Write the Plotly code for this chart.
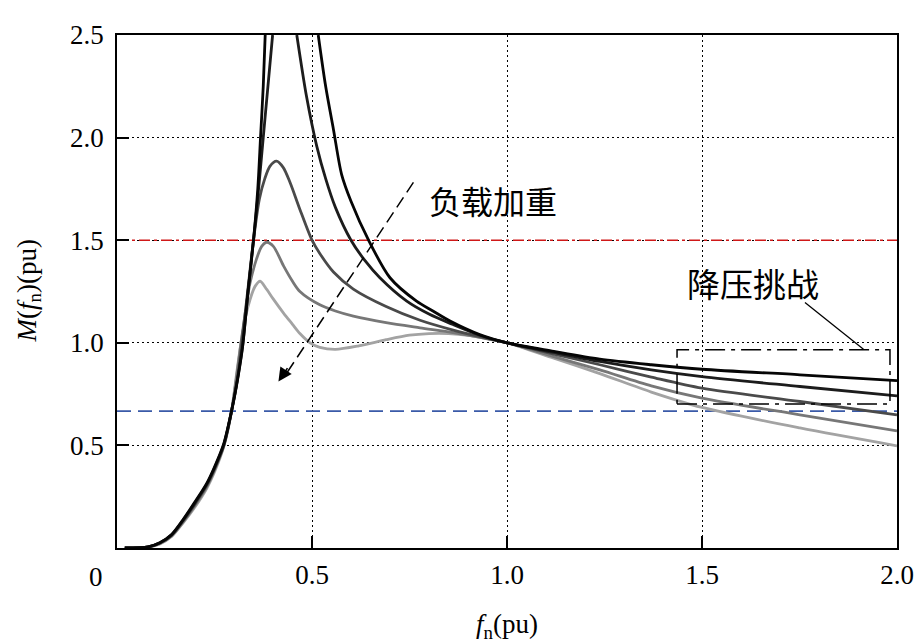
import plotly.graph_objects as go

# ---- data ----
# curve A (lightest load, darkest line) - splits where it leaves the top of the axes
fA = [0.02, 0.08, 0.11, 0.14, 0.17, 0.20, 0.23, 0.25, 0.274, 0.294, 0.31, 0.322, 0.336, 0.35, 0.361, 0.368, 0.375, 0.38,
      None,
      0.516, 0.535, 0.555, 0.576, 0.60, 0.645, 0.70, 0.768, 0.81, 0.854, 0.93, 1.0, 1.12, 1.238, 1.37, 1.5, 1.751, 2.0]
mA = [0.0, 0.006, 0.026, 0.066, 0.14, 0.225, 0.315, 0.395, 0.51, 0.67, 0.83, 0.98, 1.25, 1.5, 1.75, 2.0, 2.25, 2.5,
      None,
      2.5, 2.25, 2.04, 1.82, 1.69, 1.5, 1.317, 1.203, 1.155, 1.106, 1.04, 1.0, 0.958, 0.92, 0.893, 0.871, 0.844, 0.816]

fB = [0.02, 0.08, 0.11, 0.14, 0.17, 0.20, 0.23, 0.25, 0.274, 0.294, 0.31, 0.322, 0.336, 0.35, 0.363, 0.375, 0.387, 0.399,
      None,
      0.461, 0.486, 0.512, 0.535, 0.56, 0.60, 0.636, 0.674, 0.743, 0.80, 0.86, 0.93, 1.0, 1.12, 1.238, 1.37, 1.5, 1.751, 2.0]
mB = [0.0, 0.005, 0.025, 0.064, 0.137, 0.22, 0.31, 0.39, 0.505, 0.67, 0.835, 0.985, 1.25, 1.5, 1.75, 2.0, 2.25, 2.5,
      None,
      2.5, 2.2, 1.96, 1.8, 1.66, 1.5, 1.4, 1.317, 1.203, 1.14, 1.09, 1.037, 1.0, 0.953, 0.909, 0.868, 0.835, 0.787, 0.741]

fC = [0.02, 0.08, 0.11, 0.14, 0.17, 0.20, 0.23, 0.25, 0.274, 0.294, 0.31, 0.32, 0.335, 0.35, 0.365, 0.379, 0.392, 0.409,
      0.426, 0.444, 0.469, 0.50, 0.52, 0.555, 0.606, 0.69, 0.777, 0.862, 0.93, 1.0, 1.12, 1.238, 1.37, 1.5, 1.751, 2.0]
mC = [0.0, 0.005, 0.024, 0.062, 0.133, 0.215, 0.305, 0.385, 0.5, 0.67, 0.84, 1.0, 1.25, 1.5, 1.7, 1.8, 1.86, 1.885,
      1.855, 1.78, 1.65, 1.5, 1.435, 1.345, 1.262, 1.177, 1.11, 1.062, 1.03, 1.0, 0.945, 0.893, 0.833, 0.779, 0.714, 0.649]

fD = [0.02, 0.08, 0.11, 0.14, 0.17, 0.20, 0.23, 0.25, 0.274, 0.294, 0.307, 0.318, 0.33, 0.341, 0.358, 0.371, 0.384,
      0.401, 0.427, 0.45, 0.469, 0.52, 0.56, 0.606, 0.69, 0.777, 0.862, 0.93, 1.0, 1.12, 1.238, 1.37, 1.5, 1.751, 2.0]
mD = [0.0, 0.004, 0.022, 0.059, 0.128, 0.208, 0.298, 0.38, 0.5, 0.67, 0.84, 1.0, 1.16, 1.29, 1.41, 1.47, 1.49,
      1.47, 1.375, 1.3, 1.25, 1.185, 1.155, 1.13, 1.098, 1.073, 1.05, 1.027, 1.0, 0.933, 0.868, 0.79, 0.73, 0.649, 0.571]

fE = [0.02, 0.08, 0.11, 0.14, 0.17, 0.20, 0.23, 0.25, 0.274, 0.294, 0.306, 0.318, 0.33, 0.341, 0.354, 0.367, 0.384,
      0.40, 0.427, 0.45, 0.469, 0.495, 0.52, 0.56, 0.62, 0.69, 0.75, 0.80, 0.85, 0.905, 0.95, 1.0, 1.12, 1.238, 1.37,
      1.5, 1.751, 2.0]
mE = [0.0, 0.004, 0.02, 0.056, 0.124, 0.2, 0.29, 0.37, 0.495, 0.67, 0.84, 1.0, 1.13, 1.21, 1.275, 1.30, 1.26,
      1.215, 1.145, 1.09, 1.045, 1.0, 0.978, 0.968, 0.985, 1.015, 1.037, 1.045, 1.045, 1.035, 1.02, 1.0, 0.925, 0.85,
      0.76, 0.685, 0.585, 0.498]

curve_f = [fE, fD, fC, fB, fA]
curve_m = [mE, mD, mC, mB, mA]
curve_colors = ["#a3a3a3", "#777777", "#4a4a4a", "#1c1c1c", "#050505"]

upper_limit = 1.5
lower_limit = 0.667

x_tickvals = [0.5, 1.0, 1.5, 2.0]
x_ticktext = ["0.5", "1.0", "1.5", "2.0"]
y_tickvals = [0.5, 1.0, 1.5, 2.0, 2.5]
y_ticktext = ["0.5", "1.0", "1.5", "2.0", "2.5"]

SERIF = "Liberation Serif"
CJK = "Noto Sans CJK SC"

fig = go.Figure()

fig.add_trace(go.Scatter(x=[0, 2], y=[upper_limit, upper_limit], mode="lines",
                         line=dict(color="#d01818", width=1.4, dash="11px,4px,3px,4px"),
                         hoverinfo="skip", showlegend=False))
fig.add_trace(go.Scatter(x=[0, 2], y=[lower_limit, lower_limit], mode="lines",
                         line=dict(color="#3a5aa8", width=1.6, dash="14px,7px"),
                         hoverinfo="skip", showlegend=False))

for f, m, c in zip(curve_f, curve_m, curve_colors):
    fig.add_trace(go.Scatter(x=f, y=m, mode="lines", connectgaps=False,
                             line=dict(color=c, width=2.8, shape="spline", smoothing=0.8),
                             showlegend=False))

# dashed arrow "负载加重"
fig.add_shape(type="line", x0=0.760, y0=1.782, x1=0.428, y1=0.832,
              line=dict(color="black", width=1.5, dash="12px,6px"))
fig.add_annotation(x=0.414, y=0.811, ax=10, ay=-15, axref="pixel", ayref="pixel",
                   text="", showarrow=True, arrowhead=2, arrowsize=1.7, arrowwidth=1.6,
                   arrowcolor="black", standoff=0)
fig.add_annotation(x=0.965, y=1.695, text="负载加重", showarrow=False,
                   font=dict(family=CJK, size=32, color="black"), xanchor="center", yanchor="middle")

# box and leader "降压挑战"
fig.add_shape(type="rect", x0=1.436, x1=1.982, y0=0.702, y1=0.966,
              line=dict(color="black", width=1.5, dash="20px,6px,4px,6px"))
fig.add_shape(type="line", x0=1.764, y0=1.196, x1=1.914, y1=0.969,
              line=dict(color="black", width=1.3))
fig.add_annotation(x=1.631, y=1.293, text="降压挑战", showarrow=False,
                   font=dict(family=CJK, size=33, color="black"), xanchor="center", yanchor="middle")

# axis titles and origin label
fig.add_annotation(x=0.5, y=0, xref="paper", yref="paper", yshift=-78,
                   text="<i>f</i><sub>n</sub>(pu)", showarrow=False,
                   font=dict(family=SERIF, size=27, color="black"), xanchor="center", yanchor="middle")
fig.add_annotation(x=0, y=0.5, xref="paper", yref="paper", xshift=-89,
                   text="<i>M</i>(<i>f</i><sub>n</sub>)(pu)", showarrow=False, textangle=-90,
                   font=dict(family=SERIF, size=27, color="black"), xanchor="center", yanchor="middle")
fig.add_annotation(x=0, y=0, xref="paper", yref="paper", xshift=-21, yshift=-29,
                   text="0", showarrow=False,
                   font=dict(family=SERIF, size=27, color="black"), xanchor="center", yanchor="middle")

axis_common = dict(showline=True, linecolor="black", linewidth=1.5, mirror=True,
                   ticks="inside", ticklen=12, tickwidth=1.5, tickcolor="black",
                   showgrid=True, gridcolor="black", gridwidth=1.2, griddash="2px,3px",
                   zeroline=False, automargin=False,
                   tickfont=dict(family=SERIF, size=27, color="black"))

fig.update_xaxes(range=[0, 2], tickvals=x_tickvals, ticktext=x_ticktext, ticklabelstandoff=2, **axis_common)
fig.update_yaxes(range=[0, 2.5], tickvals=y_tickvals, ticktext=y_ticktext, ticklabelstandoff=6, **axis_common)

fig.update_layout(width=917, height=644, margin=dict(l=117, r=20, t=35, b=96, autoexpand=False),
                  paper_bgcolor="white", plot_bgcolor="white", showlegend=False)

fig.write_html("out.html")
